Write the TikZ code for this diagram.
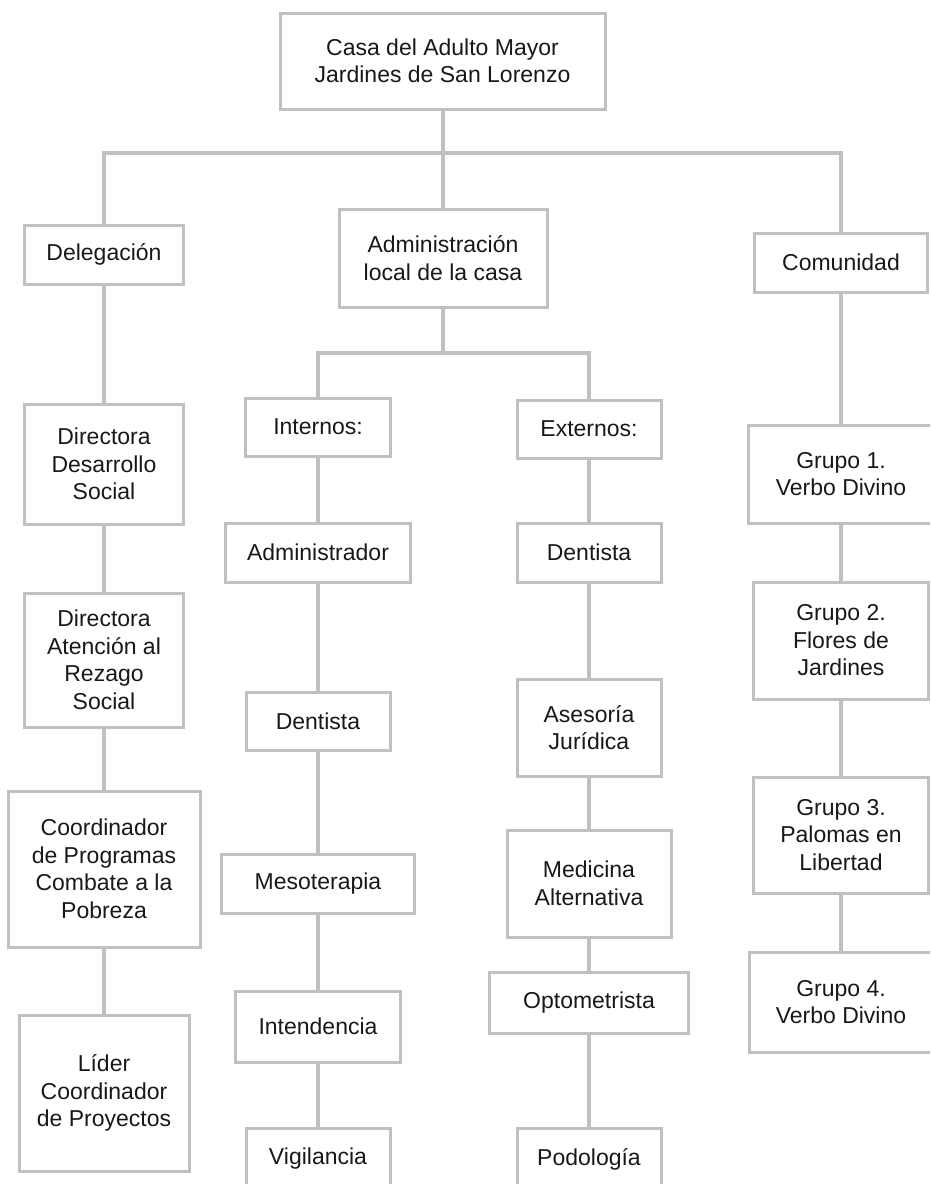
\documentclass[tikz,border=0pt]{standalone}
\usepackage{fontspec}
\setmainfont{Liberation Sans}
\usepackage{xcolor}
\definecolor{linegray}{RGB}{192,192,192}
\definecolor{txtgray}{RGB}{24,24,24}

\begin{document}
\begin{tikzpicture}[x=1pt,y=-1pt,
    box/.style = {shape=rectangle, draw=linegray, line width=3pt,
      align=center, text=txtgray, inner sep=0pt,
      font=\fontsize{23}{27.5}\selectfont},
    wh/.style 2 args = {minimum width=#1pt, minimum height=#2pt},
    link/.style = {draw=linegray, line width=4pt}]
  \useasboundingbox (0,0) rectangle (930,1184);
  \clip (0,0) rectangle (930,1184);

  % top
  \node[box, wh={325}{96}] (casa) at (442.5,61) {Casa del Adulto Mayor\\Jardines de San Lorenzo};
  \node[box, wh={159}{59}] (deleg) at (104,254.5) {Delegación};
  \node[box, wh={208}{98}] (admin) at (443,258) {Administración\\local de la casa};
  \node[box, wh={173}{59}] (comun) at (841,262.5) {Comunidad};
  \node[box, wh={145}{58}] (intern) at (318,427) {Internos:};
  \node[box, wh={144}{58}] (extern) at (589,429) {Externos:};

  % delegacion
  \node[box, wh={159}{120}] (dir1) at (104,464) {Directora\\Desarrollo\\Social};
  \node[box, wh={159}{134}] (dir2) at (104,660) {Directora\\Atención al\\Rezago\\Social};
  \node[box, wh={192}{156}] (coord) at (104,869) {Coordinador\\de Programas\\Combate a la\\Pobreza};
  \node[box, wh={170}{156}] (lider) at (104,1093) {Líder\\Coordinador\\de Proyectos};

  % internos
  \node[box, wh={185}{59}] (iadmin) at (318,552.5) {Administrador};
  \node[box, wh={144}{58}] (ident) at (318,721) {Dentista};
  \node[box, wh={193}{59}] (meso) at (318,883.5) {Mesoterapia};
  \node[box, wh={165}{71}] (inten) at (318,1026.5) {Intendencia};
  \node[box, wh={144}{62}] (vigil) at (318,1159) {Vigilancia};

  % externos
  \node[box, wh={144}{59}] (edent) at (589,552.5) {Dentista};
  \node[box, wh={144}{97}] (aseso) at (589,727.5) {Asesoría\\Jurídica};
  \node[box, wh={164}{107}] (medic) at (589,883.5) {Medicina\\Alternativa};
  \node[box, wh={199}{61}] (optom) at (589,1002.5) {Optometrista};
  \node[box, wh={144}{62}] (podol) at (589,1159) {Podología};

  % comunidad
  \node[box, wh={185}{98}] (grupo1) at (841,474) {Grupo 1.\\Verbo Divino};
  \node[box, wh={175}{117}] (grupo2) at (841,640.5) {Grupo 2.\\Flores de\\Jardines};
  \node[box, wh={175}{116}] (grupo3) at (841,835) {Grupo 3.\\Palomas en\\Libertad};
  \node[box, wh={184}{100}] (grupo4) at (841,1002) {Grupo 4.\\Verbo Divino};

  % connectors
  \coordinate (top) at (443,153);
  \coordinate (mid) at (443,353);
  \draw[link] (casa.south -| top) -- (top);
  \draw[link] (deleg) |- (top) -| (comun);
  \draw[link] (top) -- (admin);
  \draw[link] (admin) -- (mid);
  \draw[link] (intern) |- (mid) -| (extern);
  \draw[link] (deleg) -- (dir1) -- (dir2) -- (coord) -- (lider);
  \draw[link] (intern) -- (iadmin) -- (ident) -- (meso) -- (inten) -- (vigil);
  \draw[link] (extern) -- (edent) -- (aseso) -- (medic) -- (optom) -- (podol);
  \draw[link] (comun) -- (grupo1) -- (grupo2) -- (grupo3) -- (grupo4);
\end{tikzpicture}
\end{document}
